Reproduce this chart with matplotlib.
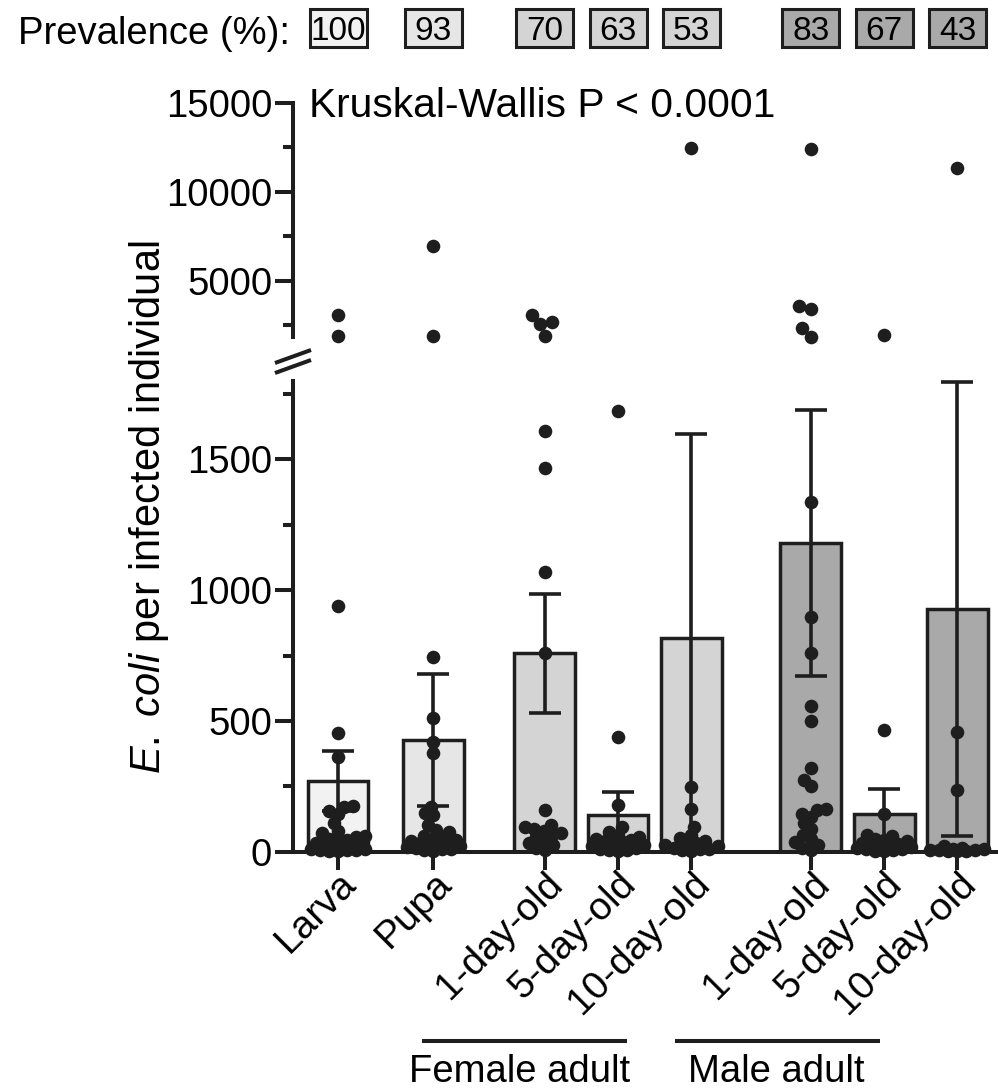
import numpy as np
import matplotlib
matplotlib.use('Agg')
import matplotlib.pyplot as plt
from matplotlib.lines import Line2D
from matplotlib.patches import Rectangle

plt.rcParams['font.family'] = ['Liberation Sans', 'DejaVu Sans']
plt.rcParams['mathtext.fontset'] = 'custom'
plt.rcParams['mathtext.rm'] = 'Liberation Sans'
plt.rcParams['mathtext.it'] = 'Liberation Sans:italic'

# ---------------- data ----------------
categories = ['Larva', 'Pupa', '1-day-old', '5-day-old', '10-day-old',
              '1-day-old', '5-day-old', '10-day-old']
group_names = ['Female adult', 'Male adult']
prevalence = [100, 93, 70, 63, 53, 83, 67, 43]
means = [270, 427, 758, 140, 818, 1179, 143, 929]
sem = [116, 251, 227, 87, 779, 509, 97, 868]

larva = [3060, 1879, 939, 455, 363, 176, 172, 157, 146, 111, 80, 70, 60, 55, 50,
         45, 40, 35, 30, 25, 20, 18, 15, 12, 10, 8, 5, 5, 3, 2]
pupa = [6957, 1879, 743, 512, 420, 378, 172, 147, 139, 102, 83, 76, 60, 55, 50,
        45, 40, 35, 30, 28, 25, 20, 18, 15, 12, 10, 6, 3]
female_1d = [3043, 2683, 2536, 1879, 1609, 1469, 1070, 758, 159, 102, 95, 88, 80,
             72, 65, 55, 45, 35, 25, 15, 8]
female_5d = [1686, 440, 178, 96, 75, 65, 58, 50, 45, 40, 35, 30, 25, 20, 15, 10,
             8, 5, 3]
female_10d = [12469, 246, 163, 96, 64, 51, 40, 35, 30, 25, 20, 15, 12, 10, 6, 3]
male_1d = [12396, 3566, 3414, 2328, 1850, 1338, 898, 758, 558, 500, 321, 274, 251,
           163, 159, 143, 134, 109, 85, 64, 50, 38, 26, 15, 8]
male_5d = [1935, 465, 143, 64, 60, 50, 45, 40, 35, 30, 28, 25, 20, 18, 15, 12, 10,
           6, 3, 2]
male_10d = [11310, 456, 236, 20, 15, 12, 10, 8, 6, 5, 3, 2, 1]
points = [larva, pupa, female_1d, female_5d, female_10d, male_1d, male_5d, male_10d]

# ---------------- style / layout ----------------
bar_colors = ['#f2f2f2', '#e6e6e6', '#d4d4d4', '#d4d4d4', '#d4d4d4',
              '#a9a9a9', '#a9a9a9', '#a9a9a9']
x_pos = [0, 1.3, 2.82, 3.82, 4.82, 6.45, 7.45, 8.45]
dark = '#1e1e1e'
W, H = 998, 1089
LW = 2.9
FS = 27.5

fig = plt.figure(figsize=(W / 100, H / 100), dpi=100)

ax_lo = fig.add_axes([293 / W, 1 - 851.7 / H, (W - 293) / W, (851.7 - 381) / H])
ax_hi = fig.add_axes([293 / W, 1 - 336.7 / H, (W - 293) / W, (336.7 - 102.7) / H])

xlim = (-0.614, 9.004)
lo_lim = (0, 1800)
hi_lim = (1840, 15000)
for ax in (ax_lo, ax_hi):
    ax.set_xlim(*xlim)
    ax.patch.set_visible(False)
    for s in ('top', 'right'):
        ax.spines[s].set_visible(False)
    ax.spines['left'].set_linewidth(LW)
    ax.spines['left'].set_color(dark)
ax_lo.set_ylim(*lo_lim)
ax_hi.set_ylim(*hi_lim)
ax_lo.spines['bottom'].set_linewidth(LW)
ax_lo.spines['bottom'].set_color(dark)
ax_hi.spines['bottom'].set_visible(False)

# bars and error bars
ax_lo.bar(x_pos, means, width=0.83, color=bar_colors, edgecolor=dark,
          linewidth=2.5, zorder=2)
ax_lo.errorbar(x_pos, means, yerr=sem, fmt='none', ecolor=dark, elinewidth=2.6,
               capsize=11.5, capthick=2.6, zorder=3, clip_on=False)

# swarm positions
ms = 9.8
def swarm(vals, y2px, d, max_off):
    vals = np.asarray(vals, float)
    order = np.argsort(vals)
    placed = []
    xs = np.zeros(len(vals))
    for i in order:
        y = vals[i] * y2px
        cands = [0.0]
        for (px, py) in placed:
            dy = abs(py - y)
            if dy < d:
                dx = np.sqrt(d * d - dy * dy)
                cands += [px + dx, px - dx]
        cands.sort(key=lambda c: (abs(c), c))
        chosen = None
        for c in cands:
            if abs(c) > max_off:
                continue
            if all((c - px) ** 2 + (y - py) ** 2 >= d * d - 1e-6 for px, py in placed):
                chosen = c
                break
        if chosen is None:
            grid = np.linspace(-max_off, max_off, 13)
            chosen = max(grid, key=lambda c: min([(c - px) ** 2 + (y - py) ** 2
                                                   for px, py in placed] or [1e9]))
        xs[i] = chosen
        placed.append((chosen, y))
    return xs

fig.canvas.draw()
def px_per_unit(ax):
    t = ax.transData
    x0, y0 = t.transform((0, ax.get_ylim()[0]))
    x1, y1 = t.transform((1, ax.get_ylim()[1]))
    return (x1 - x0), (y1 - y0) / (ax.get_ylim()[1] - ax.get_ylim()[0])

xppu, yppu_lo = px_per_unit(ax_lo)
_, yppu_hi = px_per_unit(ax_hi)

for xc, vals in zip(x_pos, points):
    vals = np.asarray(vals, float)
    lo = vals[vals <= lo_lim[1]]
    hi = vals[vals > lo_lim[1]]
    if len(lo):
        off = swarm(lo, yppu_lo, 9.0, 27) / xppu
        ax_lo.plot(xc + off, lo, 'o', color=dark, ms=ms, mew=0, zorder=4, clip_on=False)
    if len(hi):
        off = swarm(hi, yppu_hi, 12.5, 27) / xppu
        ax_hi.plot(xc + off, hi, 'o', color=dark, ms=ms, mew=0, zorder=4, clip_on=False)

# ticks
ax_lo.set_yticks([0, 500, 1000, 1500])
ax_lo.set_yticks(np.arange(250, 1800, 500), minor=True)
ax_hi.set_yticks([5000, 10000, 15000])
ax_hi.set_yticks([2500, 7500, 12500], minor=True)
for ax in (ax_lo, ax_hi):
    ax.tick_params(axis='y', which='major', length=13, width=LW, color=dark,
                   labelsize=FS, pad=2)
    ax.tick_params(axis='y', which='minor', length=7.5, width=LW, color=dark)
ax_hi.set_xticks([])
ax_lo.set_xticks(x_pos)
ax_lo.set_xticklabels(categories, rotation=45, ha='right', va='top',
                      rotation_mode='anchor', fontsize=28)
ax_lo.tick_params(axis='x', length=13, width=LW, color=dark, pad=-3)

# axis break marks
for dy in (0, 10):
    fig.add_artist(Line2D([275 / W, 311 / W], [1 - (363 + dy) / H, 1 - (350 + dy) / H],
                          color=dark, lw=LW, solid_capstyle='butt'))

# y label
fig.text(149 / W, 1 - 507 / H, r'$\mathit{E.\ coli}$ per infected individual',
         rotation=90, ha='center', va='center', fontsize=30)

# statistic
fig.text(309 / W, 1 - 117 / H, 'Kruskal-Wallis P < 0.0001', ha='left',
         va='baseline', fontsize=29.3)

# group lines
for name, (x0, x1, xc) in zip(group_names, [(422, 627, 520), (675, 880, 776)]):
    fig.add_artist(Line2D([x0 / W, x1 / W], [1 - 1041 / H] * 2, color=dark, lw=LW,
                          solid_capstyle='butt'))
    fig.text(xc / W, 1 - 1082 / H, name, ha='center', va='baseline', fontsize=FS)

# prevalence row
fig.text(18 / W, 1 - 44 / H, 'Prevalence (%):', ha='left', va='baseline',
         fontsize=27.5)
for xc, p, c in zip(x_pos, prevalence, bar_colors):
    px = ax_lo.transData.transform((xc, 0))[0]
    bw, bh, cy = 57, 38, 28
    fig.add_artist(Rectangle(((px - bw / 2) / W, 1 - (cy + bh / 2) / H), bw / W, bh / H,
                             transform=fig.transFigure, facecolor=c, edgecolor=dark,
                             lw=2.2))
    fig.text(px / W, 1 - 40 / H, str(p), ha='center', va='baseline', fontsize=24)

fig.savefig('out.png', dpi=100)
